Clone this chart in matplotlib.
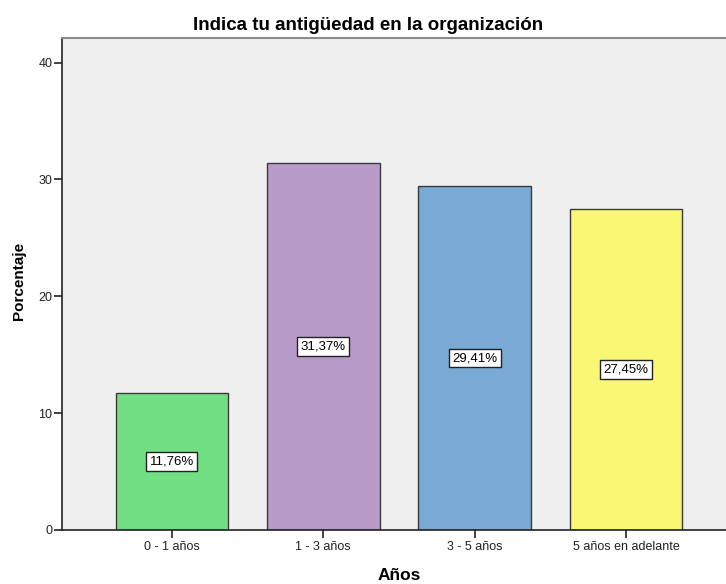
import matplotlib
matplotlib.use("Agg")
import matplotlib.pyplot as plt

categories = ["0 - 1 años", "1 - 3 años", "3 - 5 años", "5 años en adelante"]
percentages = [11.76, 31.37, 29.41, 27.45]
bar_colors = ["#72DE84", "#B89AC8", "#79A9D5", "#F9F774"]
y_ticks = [0, 10, 20, 30, 40]

plt.rcParams["font.family"] = ["Liberation Sans", "DejaVu Sans"]

W, H = 726, 584
fig = plt.figure(figsize=(W / 100, H / 100), dpi=100)
fig.patch.set_facecolor("white")

left, right, top, bottom = 62, 736, 38, 530
ax = fig.add_axes([left / W, 1 - bottom / H, (right - left) / W, (bottom - top) / H])
ax.set_facecolor("#EFEFEF")

x = list(range(len(categories)))
ax.bar(x, percentages, width=0.745, color=bar_colors, edgecolor="#3a3a3a",
       linewidth=1.0, zorder=2)

for xi, v in zip(x, percentages):
    ax.text(xi, v / 2, f"{v:.2f}%".replace(".", ","), ha="center", va="center",
            fontsize=9.5, color="black", zorder=3,
            bbox=dict(boxstyle="square,pad=0.25", facecolor="white",
                      edgecolor="#222222", linewidth=1.0))

ax.set_xlim(-0.726, 3.726)
ax.set_ylim(0, 42.1)
ax.set_yticks(y_ticks)
ax.set_yticklabels([str(t) for t in y_ticks], fontsize=9, color="#222222")
ax.set_xticks(x)
ax.set_xticklabels(categories, fontsize=9, color="#222222")
ax.tick_params(axis="both", direction="out", length=6, width=1.2, color="#222222")
ax.tick_params(axis="x", pad=2)
ax.tick_params(axis="y", pad=1)

ax.spines["right"].set_visible(False)
ax.spines["top"].set_color("#8a8a8a")
ax.spines["top"].set_linewidth(1.5)
for side in ("left", "bottom"):
    ax.spines[side].set_color("#222222")
    ax.spines[side].set_linewidth(1.2)

fig.text(19.5 / W, 1 - 281 / H, "Porcentaje", rotation=90, ha="center",
         va="center", fontsize=11, fontweight="bold")
fig.text(399 / W, 1 - 575 / H, "Años", ha="center", va="center",
         fontsize=12.5, fontweight="bold")
fig.text(368 / W, 1 - 25 / H, "Indica tu antigüedad en la organización",
         ha="center", va="center", fontsize=13.5, fontweight="bold")

fig.savefig("out.png", dpi=100)
